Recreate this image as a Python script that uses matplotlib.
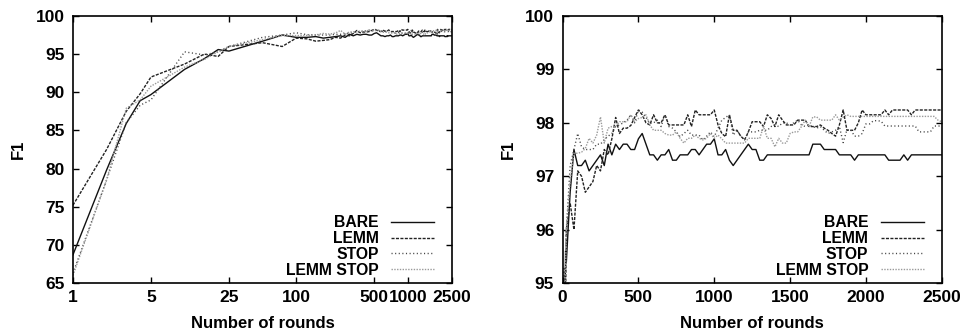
import matplotlib
matplotlib.use("Agg")
import matplotlib.pyplot as plt
from matplotlib.ticker import NullLocator

plt.rcParams['font.family'] = ['Liberation Sans', 'DejaVu Sans']
plt.rcParams['font.weight'] = 'bold'
plt.rcParams['font.size'] = 11

# rounds at which F1 was measured
early_rounds = [1, 2, 3, 4, 5, 10, 15, 20]
late_rounds = list(range(25, 2501, 25))
rounds = early_rounds + late_rounds

# F1 values
bare_early = [68.7, 79.8, 85.9, 88.9, 89.7, 93.0, 94.4, 95.6]
bare_late = [
    95.4, 96.7, 97.5, 97.2, 97.2, 97.3, 97.1, 97.2, 97.3, 97.4,
    97.2, 97.6, 97.4, 97.6, 97.5, 97.6, 97.6, 97.5, 97.5, 97.7,
    97.8, 97.6, 97.4, 97.4, 97.3, 97.4, 97.4, 97.5, 97.3, 97.3,
    97.4, 97.4, 97.4, 97.5, 97.5, 97.4, 97.5, 97.6, 97.6, 97.7,
    97.4, 97.4, 97.5, 97.3, 97.2, 97.3, 97.4, 97.5, 97.6, 97.5,
    97.5, 97.3, 97.3, 97.4, 97.4, 97.4, 97.4, 97.4, 97.4, 97.4,
    97.4, 97.4, 97.4, 97.4, 97.4, 97.6, 97.6, 97.6, 97.5, 97.5,
    97.5, 97.5, 97.4, 97.4, 97.4, 97.4, 97.3, 97.4, 97.4, 97.4,
    97.4, 97.4, 97.4, 97.4, 97.4, 97.3, 97.3, 97.3, 97.3, 97.4,
    97.3, 97.4, 97.4, 97.4, 97.4, 97.4, 97.4, 97.4, 97.4, 97.4,
]

lemm_early = [75.2, 82.5, 87.5, 89.8, 92.0, 93.7, 95.0, 94.7]
lemm_late = [
    96.0, 96.5, 96.0, 97.1, 97.0, 96.7, 96.8, 96.9, 97.2, 97.1,
    97.5, 97.4, 97.7, 98.1, 97.8, 97.9, 97.9, 97.95, 98.1, 98.24,
    98.15, 98.0, 97.96, 98.15, 98.0, 98.0, 98.15, 97.96, 97.96, 97.96,
    97.96, 97.96, 98.15, 97.93, 98.24, 98.15, 98.15, 98.15, 98.15, 98.24,
    97.96, 97.8, 97.74, 98.15, 97.86, 97.86, 97.75, 97.68, 97.83, 98.02,
    98.02, 98.02, 97.93, 98.15, 98.08, 97.93, 98.15, 98.05, 97.96, 97.96,
    97.96, 98.05, 98.05, 98.05, 97.93, 97.93, 97.93, 97.96, 97.9, 97.86,
    97.8, 97.75, 97.96, 98.24, 97.86, 97.86, 97.86, 98.0, 98.24, 98.15,
    98.15, 98.15, 98.15, 98.15, 98.24, 98.15, 98.24, 98.24, 98.24, 98.24,
    98.24, 98.15, 98.24, 98.24, 98.24, 98.24, 98.24, 98.24, 98.24, 98.24,
]

stop_early = [66.3, 78.5, 86.0, 88.3, 89.0, 95.3, 94.9, 95.3]
stop_late = [
    96.0, 97.2, 97.5, 97.8, 97.55, 97.5, 97.5, 97.5, 97.6, 97.6,
    97.68, 97.75, 97.8, 97.93, 97.96, 98.0, 98.05, 98.15, 98.0, 98.24,
    98.2, 98.1, 97.99, 98.0, 98.05, 97.93, 98.15, 97.93, 97.9, 97.83,
    97.74, 97.8, 97.86, 97.77, 97.77, 97.77, 97.68, 97.75, 97.83, 97.74,
    97.9, 98.05, 98.1, 98.15, 97.77, 97.86, 97.75, 97.68, 97.83, 97.83,
    97.83, 97.86, 97.86, 97.86, 97.93, 97.96, 97.93, 98.0, 98.0, 97.96,
    98.0, 98.05, 97.96, 97.93, 97.96, 97.93, 97.9, 97.93, 97.86, 97.8,
    97.83, 97.86, 97.93, 97.63, 97.87, 97.87, 97.75, 97.75, 97.8, 97.98,
    97.98, 98.04, 98.04, 98.03, 97.94, 97.94, 97.94, 97.94, 97.94, 97.94,
    97.94, 97.94, 97.94, 97.83, 97.83, 97.83, 97.83, 97.94, 97.94, 97.94,
]

lemmstop_early = [66.0, 78.5, 87.9, 89.0, 90.8, 93.3, 94.3, 95.3]
lemmstop_late = [
    96.0, 96.9, 97.43, 97.43, 97.45, 97.52, 97.71, 97.62, 97.77, 98.11,
    97.62, 97.9, 97.93, 97.93, 98.02, 98.02, 98.02, 98.15, 98.02, 98.08,
    98.1, 98.15, 97.96, 97.86, 97.86, 97.86, 97.8, 97.77, 97.77, 97.83,
    97.71, 97.62, 97.71, 97.71, 97.77, 97.71, 97.68, 97.71, 97.8, 97.71,
    97.77, 97.7, 97.62, 97.62, 97.62, 97.62, 97.62, 97.62, 97.71, 97.71,
    97.71, 97.71, 97.93, 97.71, 97.71, 97.55, 97.71, 97.62, 97.62, 97.8,
    97.83, 97.83, 97.93, 98.05, 97.93, 98.11, 98.11, 98.05, 98.05, 98.05,
    98.05, 98.15, 98.05, 98.1, 98.15, 98.12, 98.12, 98.12, 98.12, 98.12,
    98.12, 98.12, 98.12, 98.12, 98.12, 98.12, 98.12, 98.12, 98.12, 98.12,
    98.12, 98.12, 98.12, 98.12, 98.12, 98.12, 98.12, 98.12, 98.05, 98.02,
]

labels = ['BARE', 'LEMM', 'STOP', 'LEMM STOP']
values = [bare_early + bare_late, lemm_early + lemm_late,
          stop_early + stop_late, lemmstop_early + lemmstop_late]
colors = ['#111111', '#222222', '#444444', '#9a9a9a']
dashes = [None, (2.2, 1.0), (0.8, 1.8), (1.0, 1.0)]


def draw(ax):
    for lab, v, c, d in zip(labels, values, colors, dashes):
        line, = ax.plot(rounds, v, color=c, lw=1.0, label=lab)
        if d is not None:
            line.set_dashes(d)
    ax.tick_params(direction='in', top=True, right=True, length=4, width=1,
                   labelsize=12.5)
    ax.tick_params(axis='y', pad=6)
    ax.tick_params(axis='x', pad=5)
    for s in ax.spines.values():
        s.set_linewidth(1.2)
    ax.set_ylabel('F1', fontsize=12, fontweight='bold', labelpad=7)
    ax.set_xlabel('Number of rounds', fontsize=12, fontweight='bold', labelpad=8)
    ax.legend(loc='lower right', bbox_to_anchor=(0.953, 0.02), frameon=False,
              markerfirst=False, handlelength=2.75, handletextpad=0.8,
              labelspacing=0.05, borderpad=0, borderaxespad=0,
              prop={'weight': 'bold', 'size': 11.3})


fig = plt.figure(figsize=(9.6, 3.33), dpi=100)
ax1 = fig.add_axes([0.076, 0.150, 0.395, 0.802])
ax2 = fig.add_axes([0.586, 0.150, 0.395, 0.802])

draw(ax1)
ax1.set_xscale('log')
ax1.set_xlim(1, 2500)
ax1.set_ylim(65, 100)
ax1.set_xticks([1, 5, 25, 100, 500, 1000, 2500])
ax1.set_xticklabels(['1', '5', '25', '100', '500', '1000', '2500'])
ax1.xaxis.set_minor_locator(NullLocator())
ax1.set_yticks(range(65, 101, 5))

draw(ax2)
ax2.set_xlim(0, 2500)
ax2.set_ylim(95, 100)
ax2.set_xticks(range(0, 2501, 500))
ax2.set_yticks(range(95, 101))

fig.savefig('out.png', dpi=100)
